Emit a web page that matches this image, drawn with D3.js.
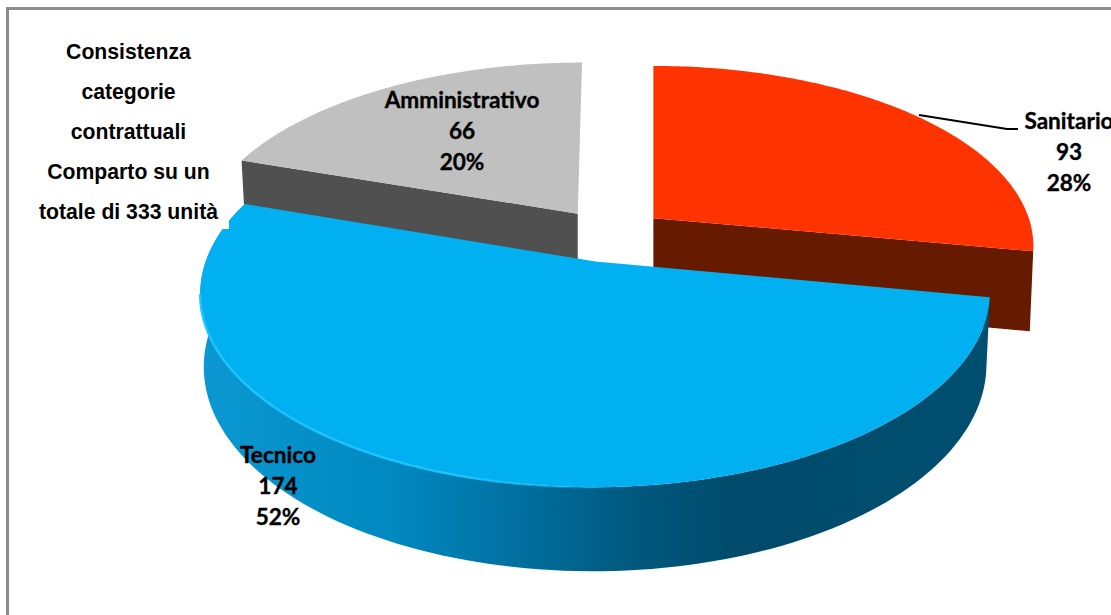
<!DOCTYPE html>
<html>
<head>
<meta charset="utf-8">
<script src="https://cdnjs.cloudflare.com/ajax/libs/d3/7.8.5/d3.min.js"></script>
<style>
  html, body { margin: 0; padding: 0; background: #fff; overflow: hidden; }
  svg { display: block; }
  .lab { font-family: Lato, "Open Sans", sans-serif; font-weight: 700; font-size: 22.6px; fill: #000; stroke: #000; stroke-width: 0.35px; text-anchor: middle; }
  .ttl { font-family: "Liberation Sans", Arial, sans-serif; font-weight: 700; font-size: 21.2px; fill: #000; text-anchor: middle; }
</style>
</head>
<body>
<svg id="chart" width="1111" height="615"></svg>
<script>
// Staff categories and head counts
const categories = ["Sanitario", "Tecnico", "Amministrativo"];
const values = [93, 174, 66];
const percents = ["28%", "52%", "20%"];
const topColors = ["#ff3300", "#00b0f0", "#c0c0c0"];
const wallColors = ["#661a00", "url(#wallBlue)", "#505050"];
const titleLines = ["Consistenza", "categorie", "contrattuali", "Comparto su un", "totale di 333 unità"];

const W = 1111, H = 615;
const wallDepths = [80, 73, 60];
const sliceVanish = [0.114, 0, 0];
const labelX = [1069, 278, 462];
const labelY = [121, 455, 100];
const svg = d3.select("#chart");

// Pie geometry: a flat disc seen in perspective, each slice pulled out along its mid-angle
const persp = 0.157, explode = 0.148, ellipseDrop = 32, floorGain = 0.057, floorShrink = 0.009;
const x = d3.scaleLinear().domain([-1, 1]).range([610 - 381, 610 + 381]);
const y = d3.scaleLinear().domain([-1, 1]).range([235 - 181, 235 + 181]);

const slices = d3.pie().sort(null).value(d => d)(values);

function project(u, v, u0) {
  const w = 1 - persp * v;
  return [x(u0 + (u - u0) / w), y(v / w)];
}
function rim(s, a) {
  const mid = (s.startAngle + s.endAngle) / 2;
  return project(Math.sin(a) + explode * Math.sin(mid), -Math.cos(a) - explode * Math.cos(mid), sliceVanish[s.index]);
}
function apex(s) {
  const mid = (s.startAngle + s.endAngle) / 2;
  return project(explode * Math.sin(mid), -explode * Math.cos(mid), sliceVanish[s.index]);
}
// Same point on the underside of the slice
function floor(s, i, p) {
  const c = apex(s);
  const yc = c[1] + ellipseDrop;
  return [c[0] + (p[0] - c[0]) * (1 - floorShrink), p[1] + wallDepths[i] + floorGain * (p[1] - yc)];
}
const line = d3.line();
const angles = (a0, a1) => d3.range(0, 121).map(k => a0 + (a1 - a0) * k / 120);

const defs = svg.append("defs");
const grad = defs.append("linearGradient").attr("id", "wallBlue")
  .attr("gradientUnits", "userSpaceOnUse").attr("x1", 200).attr("x2", 990).attr("y1", 0).attr("y2", 0);
[[0, "#0b98d2"], [0.25, "#0088bf"], [0.4, "#0070a0"], [0.54, "#005a80"], [0.68, "#004a6b"], [1, "#004f70"]]
  .forEach(d => grad.append("stop").attr("offset", d[0]).attr("stop-color", d[1]));
const glow = defs.append("linearGradient").attr("id", "rimGlow")
  .attr("gradientUnits", "userSpaceOnUse").attr("x1", 200).attr("x2", 640).attr("y1", 0).attr("y2", 0);
[[0, 0.9], [0.6, 0.9], [1, 0]].forEach(d => glow.append("stop")
  .attr("offset", d[0]).attr("stop-color", "#20c4ff").attr("stop-opacity", d[1]));

// Chart frame: only the top and left edges fall inside the page
svg.append("rect").attr("x", 7.5).attr("y", 8.5).attr("width", W + 10).attr("height", H + 10)
  .attr("fill", "#fff").attr("stroke", "#8c8c8c").attr("stroke-width", 3);

// Back slices first so the big front slice overlaps them
[2, 0, 1].forEach(i => {
  const s = slices[i];
  const g = svg.append("g");
  const arc = angles(s.startAngle, s.endAngle).map(a => rim(s, a));
  const top = [apex(s), ...arc];
  let wall;
  if (i === 1) {
    wall = [...arc, ...arc.map(p => floor(s, i, p)).reverse()];
  } else {
    const c = i === 0 ? arc[arc.length - 1] : arc[0];
    wall = [apex(s), c, floor(s, i, c), floor(s, i, apex(s))];
  }
  g.append("path").attr("d", line(wall) + "Z").attr("fill", wallColors[i]);
  g.append("path").attr("d", line(top) + "Z").attr("fill", topColors[i]);
  if (i === 1) {
    const span = s.endAngle - s.startAngle;
    const edge = angles(s.startAngle + span * 0.42, s.startAngle + span * 0.85).map(a => rim(s, a));
    g.append("path").attr("d", line(edge)).attr("fill", "none")
      .attr("stroke", "url(#rimGlow)").attr("stroke-width", 2.5);
  }
});

// Title box sits on top of the pie
svg.append("rect").attr("x", 37).attr("y", 30).attr("width", 192).attr("height", 199).attr("fill", "#fff");
svg.append("g").selectAll("text").data(titleLines).join("text")
  .attr("class", "ttl").attr("x", 128.5).attr("y", (d, i) => 59 + i * 40).text(d => d);

// Leader line from the red slice to its label
svg.append("path").attr("d", line([[919, 115], [1007, 129], [1018, 129]]))
  .attr("fill", "none").attr("stroke", "#000").attr("stroke-width", 2);

// Data labels
categories.forEach((c, i) => {
  const t = svg.append("text").attr("class", "lab").attr("x", labelX[i]);
  [c, values[i], percents[i]].forEach((str, k) => {
    t.append("tspan").attr("x", labelX[i]).attr("y", labelY[i] + 8 + k * 31).text(str);
  });
});
</script>
</body>
</html>
